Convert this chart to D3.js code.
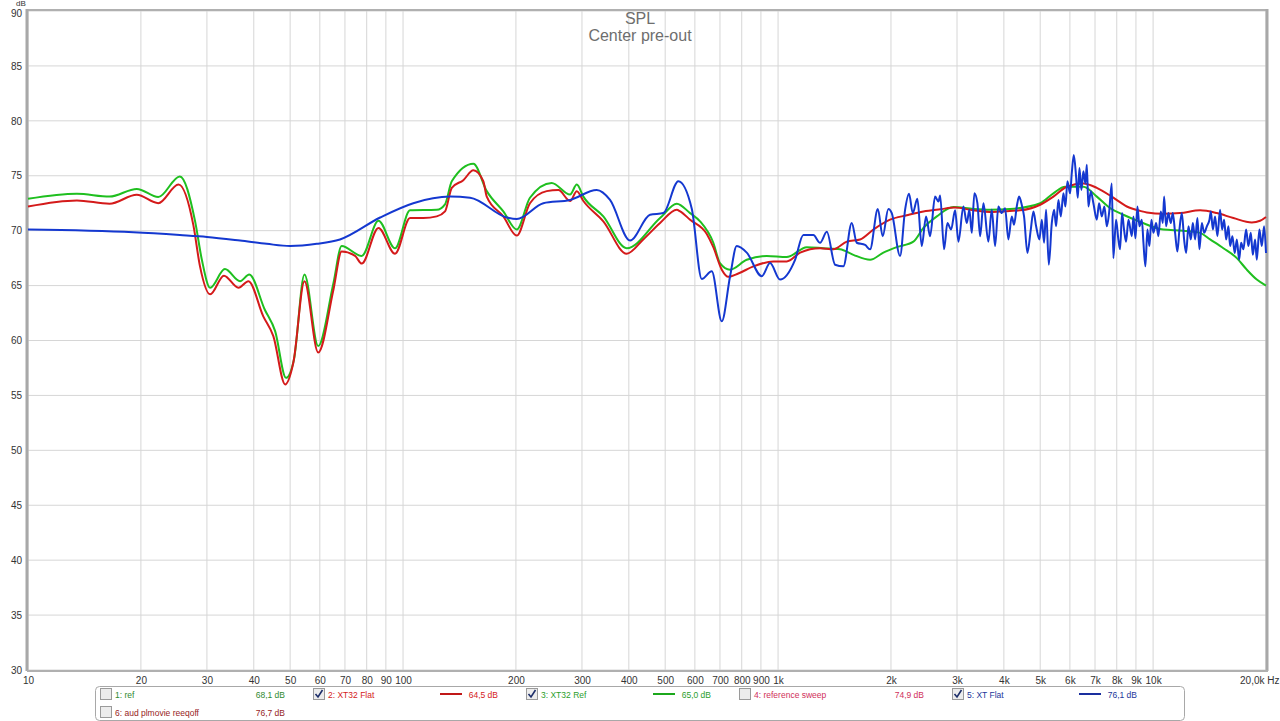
<!DOCTYPE html>
<html><head><meta charset="utf-8">
<script src="https://cdn.jsdelivr.net/npm/d3@7"></script>
<style>
body{margin:0;background:#fff;}
svg{display:block;font-family:"Liberation Sans",Arial,sans-serif;}
</style>
</head><body>
<svg id="chart" width="1280" height="721"></svg>
<script>
// ---------- data ----------
const titleLines = ["SPL", "Center pre-out"];
const yUnit = "dB";
const yTicks = [30,35,40,45,50,55,60,65,70,75,80,85,90];
const xTicks = [10,20,30,40,50,60,70,80,90,100,200,300,400,500,600,700,800,900,1000,2000,3000,4000,5000,6000,7000,8000,9000,10000,20000];
const xTickLabels = ["10","20","30","40","50","60","70","80","90","100","200","300","400","500","600","700","800","900","1k","2k","3k","4k","5k","6k","7k","8k","9k","10k","20,0k Hz"];

// 2: XT32 Flat (red)
const redFreq = [10,13.5,16.5,19.5,22.25,25.2,27.6,28.75,30.6,33.3,36.4,38.7,42.4,45.1,48.5,51.0,54.6,59.4,65.2,68.6,74.5,77.6,86.0,95.2,104.4,113.3,123,129.4,134.9,144.8,154,163.7,167.2,185.1,201,218,241.6,259.5,278.9,290.6,302.6,342,394.9,437,484.6,537,548,582.6,645.5,672,707.8,737,783.4,859.5,971.6,1055,1145,1294,1404,1525,1654,1795,1989,2204,2441,2705,2965,3317,3676,3908,4418,5000,5422,5887,6518,7078,7834,8511,9235,9621,10653,11803,13345,14791,16373,18332,19288,20000];
const redDb = [72.2,72.75,72.45,73.27,72.5,74.2,70.5,66.75,64.2,65.9,64.8,65.4,62.2,60.4,56.0,58.0,65.4,58.9,64.6,68.1,67.7,67.0,70.25,67.9,71.15,71.15,71.3,71.75,73.9,74.6,75.5,74.5,73.1,71.3,69.55,72.5,73.6,73.7,72.7,73.6,72.7,70.85,67.9,69.2,70.7,71.9,71.75,71.0,69.7,68.5,66.45,65.8,66.1,66.75,67.2,67.2,68.0,68.4,68.3,69.0,69.2,70.1,71.0,71.4,71.75,71.95,72.1,71.85,71.7,71.75,71.85,72.36,73.1,74.0,74.3,73.9,73.0,72.2,71.8,71.66,71.55,71.6,71.85,71.6,71.15,70.75,70.9,71.25];

// 3: XT32 Ref (green)
const greenFreq = [10,13.5,16.5,19.5,22.25,25.4,27.9,29.06,30.6,33.5,36.76,38.9,42.8,45.6,48.75,51.2,54.6,59.4,65.2,68.6,77.6,86.0,95.2,104.4,123,129.4,134.9,154,167.2,185.1,201,218,249,278.9,290.6,302.6,342,394.9,484.6,537,582.6,619.4,672,700,744.8,825,933,1055,1193,1321,1463,1588,1759,1909,2072,2295,2441,2650,2934,3317,3676,4155,5000,5422,5826,6518,7078,7678,8330,9235,10653,12047,13345,14190,15395,16721,17774,18900,20000];
const greenDb = [72.9,73.36,73.1,73.8,73.06,74.94,70.85,67.4,64.8,66.5,65.4,66.0,62.8,60.85,56.6,58.3,66.0,59.5,65.2,68.6,67.7,70.9,68.4,71.85,71.9,72.4,74.5,76.1,73.6,71.75,70.1,73.0,74.35,73.3,74.2,73.1,71.3,68.4,71.15,72.45,71.6,70.85,68.9,67.05,66.45,67.35,67.7,67.6,68.5,68.4,68.3,67.8,67.35,68.0,68.5,69.0,70.25,71.3,72.15,71.97,71.9,71.97,72.5,73.4,74.0,74.0,73.1,72.05,71.45,70.8,70.1,70.0,69.8,69.2,68.4,67.5,66.45,65.55,65.0];

// 5: XT Flat (blue)
const blueFreq = [10,19.1,25.4,30,36.76,43.3,50,58.9,67.9,86.9,106.5,133.5,150.9,189,201,236.6,278.9,328.5,356.4,403,455.7,494.5,542.2,588.7,626,665.6,707.8,744.8,775.8,825,905,952,1012,1110,1168,1242,1294,1349,1419,1493,1572,1621,1706,1759,1845,1901,1968,2010,2115,2181,2235,2286,2352,2416,2481,2543,2622,2677,2705,2771,2828,2893,2965,3026,3120,3186,3237,3285,3338,3400,3458,3529,3637,3714,3790,3867,3949,4030,4112,4199,4258,4330,4391,4464,4528,4622,4719,4796,4876,4975,5049,5121,5184,5271,5369,5445,5512,5591,5674,5765,5837,5909,6007,6070,6145,6233,6298,6361,6439,6518,6599,6656,6722,6822,6931,7078,7176,7299,7416,7526,7631,7758,7834,7966,8079,8163,8265,8366,8470,8595,8776,8863,8972,9083,9195,9332,9424,9538,9656,9775,9896,10018,10186,10331,10484,10614,10699,10831,10984,11147,11285,11446,11609,11754,11929,12097,12248,12422,12607,12763,12943,13127,13290,13486,13680,13910,14135,14257,14434,14630,14839,15085,15277,15467,15657,15883,16044,16272,16507,16721,16956,17168,17408,17700,17952,18219,18444,18706,18900,19206,19491,19767,20000];
const blueDb = [70.1,69.85,69.6,69.43,69.1,68.8,68.6,68.8,69.2,71.2,72.5,73.1,73.0,71.2,71.06,72.5,72.8,73.7,72.8,69.1,71.45,71.6,74.5,72.0,65.6,66.3,61.75,65.85,68.6,68.0,65.85,67.05,65.55,67.35,69.6,69.6,68.9,69.9,66.9,66.75,70.7,68.9,68.7,68.3,71.97,69.5,71.97,71.6,67.7,71.9,73.36,71.6,72.9,68.6,71.3,69.5,73.1,72.65,73.2,68.3,70.7,70.1,71.85,69.0,72.2,70.7,71.9,69.8,73.4,72.5,69.5,72.5,69.0,71.9,68.6,72.2,71.6,72.05,69.2,71.3,70.55,72.2,73.1,72.36,71.3,67.97,70.1,71.75,70.4,69.2,71.0,68.9,71.9,66.9,70.7,71.9,70.4,72.8,71.3,73.4,72.2,74.5,73.4,75.25,76.9,74.9,73.0,75.7,73.7,75.4,74.3,76.0,72.2,73.6,72.5,71.0,72.5,71.3,72.2,70.4,71.6,74.3,67.5,71.0,69.2,68.3,71.6,70.1,69.0,71.0,69.5,71.3,69.3,72.2,70.4,71.0,68.9,66.75,70.1,68.6,71.0,69.8,70.7,69.5,71.75,70.7,73.1,70.4,71.6,70.7,71.6,69.8,68.1,70.1,71.6,69.2,67.97,70.4,69.2,70.7,69.2,71.15,68.3,70.7,69.8,70.4,71.0,71.75,70.1,71.3,69.5,71.9,70.1,71.0,69.2,70.4,68.6,69.5,67.97,69.2,67.35,68.9,68.3,70.1,68.6,69.8,67.8,69.2,67.35,70.1,68.6,70.4,67.97];

// legend
const legendNames = ["1: ref","2: XT32 Flat","3: XT32 Ref","4: reference sweep","5: XT Flat","6: aud plmovie reeqoff"];
const legendValues = ["68,1 dB","64,5 dB","65,0 dB","74,9 dB","76,1 dB","76,7 dB"];
const legendChecked = [false,true,true,false,true,false];

// ---------- styles / layout ----------
const colRed = "#d41a1a", colGreen = "#1fbf1f", colBlue = "#1438d0";
const legendColors = ["#2f8a2f", colRed, "#2a9e2a", "#d0305a", "#22369a", "#962424"];
const legendLineColors = [null, "#c01818", "#1ca81c", null, "#1a2f9e", null];

const L = 28, R = 1266, T = 11, B = 670;
const svg = d3.select("#chart");
const x = d3.scaleLog().domain([10, 20000]).range([L, R]);
const y = d3.scaleLinear().domain([30, 90]).range([B, T]);

// grid
const grid = svg.append("g");
grid.selectAll("line.h").data(yTicks).join("line")
  .attr("x1", L).attr("x2", R).attr("y1", d => y(d)).attr("y2", d => y(d))
  .attr("stroke", "#d6d6d6").attr("stroke-width", 1);
grid.selectAll("line.v").data(xTicks).join("line")
  .attr("y1", T).attr("y2", B).attr("x1", d => x(d)).attr("x2", d => x(d))
  .attr("stroke", "#d6d6d6").attr("stroke-width", 1);

// frame
svg.append("line").attr("x1", L-1).attr("x2", R+1).attr("y1", T-1).attr("y2", T-1).attr("stroke", "#b0b0b0").attr("stroke-width", 2);
svg.append("line").attr("x1", L-1).attr("x2", L-1).attr("y1", T-2).attr("y2", B+1).attr("stroke", "#a8a8a8").attr("stroke-width", 3);
svg.append("line").attr("x1", R+1).attr("x2", R+1).attr("y1", T-2).attr("y2", B+1).attr("stroke", "#a8a8a8").attr("stroke-width", 3);
svg.append("line").attr("x1", L-1).attr("x2", R+2).attr("y1", B+1).attr("y2", B+1).attr("stroke", "#b0b0b0").attr("stroke-width", 2);

// axes labels
const xAxis = d3.axisBottom(x).tickValues(xTicks).tickFormat((d, i) => xTickLabels[i]).tickSize(0).tickPadding(7);
const gx = svg.append("g").attr("transform", `translate(0,${B})`).call(xAxis);
gx.select(".domain").remove();
gx.selectAll("text").attr("font-size", 10).attr("fill", "#333").attr("font-family", "Liberation Sans, Arial, sans-serif");
gx.selectAll("text").filter((d, i) => i === xTicks.length - 1).attr("text-anchor", "end").attr("x", 1279 - R);

const yAxis = d3.axisLeft(y).tickValues(yTicks).tickFormat(d3.format("d")).tickSize(0).tickPadding(4);
const gy = svg.append("g").attr("transform", `translate(${L-2},0)`).call(yAxis);
gy.select(".domain").remove();
gy.selectAll("text").attr("font-size", 10).attr("fill", "#333").attr("font-family", "Liberation Sans, Arial, sans-serif");
gy.selectAll("text").filter(d => d === 90).attr("dy", "0.5em");

svg.append("text").attr("x", 16).attr("y", 6).attr("font-size", 8).attr("fill", "#333").text(yUnit);

// title
svg.selectAll("text.title").data(titleLines).join("text").attr("class", "title")
  .attr("x", 640).attr("y", (d, i) => 24 + i * 17)
  .attr("text-anchor", "middle").attr("font-size", 16).attr("fill", "#6e6e6e").text(d => d);

// curves
const line = d3.line().x(d => x(d[0])).y(d => y(d[1])).curve(d3.curveMonotoneX);
const plot = svg.append("g");
function drawSeries(fr, db, col) {
  plot.append("path").datum(fr.map((f, i) => [f, db[i]]))
    .attr("d", line).attr("fill", "none").attr("stroke", col).attr("stroke-width", 2).attr("stroke-linejoin", "round");
}
drawSeries(greenFreq, greenDb, colGreen);
drawSeries(redFreq, redDb, colRed);
drawSeries(blueFreq, blueDb, colBlue);

// legend
const lg = svg.append("g").attr("font-size", 8.5);
lg.append("rect").attr("x", 95.5).attr("y", 686.5).attr("width", 1089).attr("height", 34).attr("rx", 4)
  .attr("fill", "#fff").attr("stroke", "#a8a8a8");
legendNames.forEach((name, i) => {
  const col = i < 5 ? i : 0;
  const row = i < 5 ? 0 : 1;
  const bx = 100 + col * 213, by = 688 + row * 18;
  const g = lg.append("g");
  g.append("rect").attr("x", bx + 0.5).attr("y", by + 0.5).attr("width", 11).attr("height", 11)
    .attr("fill", "#ececec").attr("stroke", "#9a9a9a");
  if (legendChecked[i]) {
    g.append("path").attr("d", `M${bx+2.5},${by+6} L${bx+5},${by+9} L${bx+9.5},${by+2}`)
      .attr("fill", "none").attr("stroke", "#1e2f6a").attr("stroke-width", 1.6);
  }
  g.append("text").attr("x", bx + 15).attr("y", by + 9.5).attr("fill", legendColors[i]).text(name);
  if (legendLineColors[i]) {
    g.append("line").attr("x1", bx + 127).attr("x2", bx + 149).attr("y1", by + 6).attr("y2", by + 6)
      .attr("stroke", legendLineColors[i]).attr("stroke-width", 2);
  }
  g.append("text").attr("x", bx + 185).attr("y", by + 9.5).attr("text-anchor", "end")
    .attr("fill", legendColors[i]).text(legendValues[i]);
});
</script>
</body></html>
